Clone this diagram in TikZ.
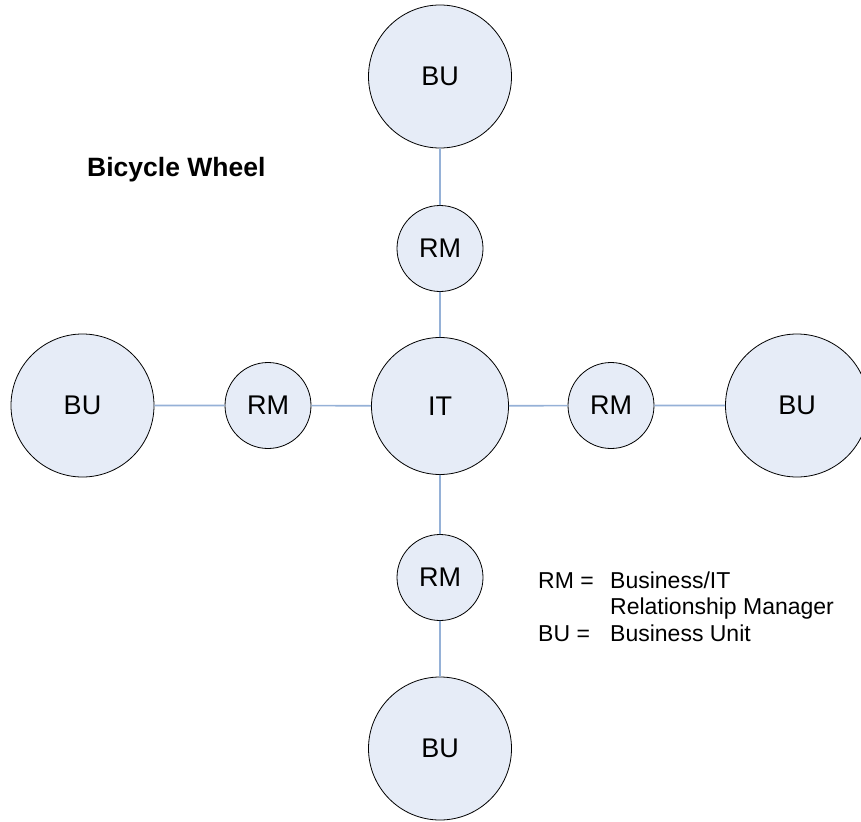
\documentclass[tikz,border=0pt]{standalone}
\usepackage{fontspec}
\setmainfont{Liberation Sans}
\definecolor{nodefill}{RGB}{230,236,247}
\definecolor{spoke}{RGB}{149,177,215}
\begin{document}
\begin{tikzpicture}[x=1pt,y=-1pt,
  bubble/.style={circle,draw=black,line width=0.8pt,fill=nodefill,inner sep=0pt,font=\fontsize{27}{32}\selectfont},
  big/.style={bubble,minimum size=143pt},
  mid/.style={bubble,minimum size=137pt},
  small/.style={bubble,minimum size=86pt},
  spokeline/.style={draw=spoke,line width=1.6pt},
  legend/.style={anchor=base west,inner sep=0pt,font=\fontsize{23}{27}\selectfont}]
\useasboundingbox (0,0) rectangle (861,821);
\clip (0,0) rectangle (861,821);
\node[mid]   (it)  at (440,406) {IT};
\node[small] (rmt) at (440,248.5) {RM};
\node[small] (rmb) at (440,577.5) {RM};
\node[small] (rml) at (268,405.5) {RM};
\node[small] (rmr) at (611,405.5) {RM};
\node[big]   (but) at (440,76.5) {BU};
\node[big]   (bub) at (440,748.5) {BU};
\node[big]   (bul) at (82.5,405.5) {BU};
\node[big]   (bur) at (797,405.5) {BU};
\path[spokeline] (but) -- (rmt) (rmt) -- (it) (it) -- (rmb) (rmb) -- (bub)
  (bul) -- (rml) (rml) -- (it) (it) -- (rmr) (rmr) -- (bur);
\node[anchor=base west,inner sep=0pt,font=\bfseries\fontsize{26.5}{30}\selectfont] (title) at (87,177) {Bicycle Wheel};
\node[legend] (k1) at (538,588) {RM =};
\node[legend] (v1) at (610,588) {Business/IT};
\node[legend] (v2) at (610,614) {Relationship Manager};
\node[legend] (k2) at (538,641) {BU =};
\node[legend] (v3) at (610,641) {Business Unit};
\end{tikzpicture}
\end{document}
